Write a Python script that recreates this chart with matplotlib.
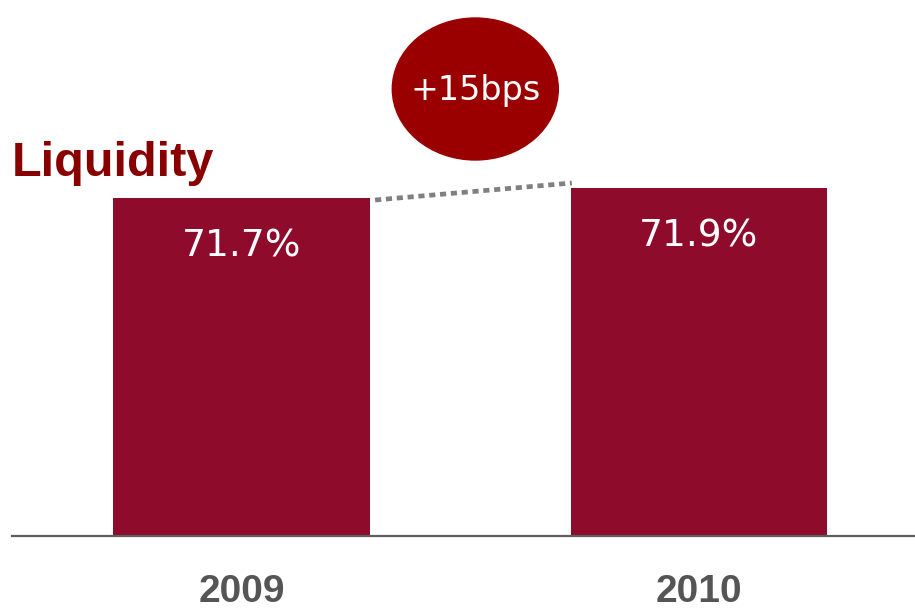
import matplotlib
matplotlib.use("Agg")
import matplotlib.pyplot as plt
from matplotlib.patches import Ellipse

years = ["2009", "2010"]
liquidity = [71.7, 71.9]
bar_labels = ["71.7%", "71.9%"]
change_label = "+15bps"
title = "Liquidity"

BAR_COLOR = "#8E0B2C"
TITLE_COLOR = "#880000"
BUBBLE_COLOR = "#9B0000"

fig = plt.figure(figsize=(9.15, 6.08), dpi=100)
ax = fig.add_axes([12 / 915, 72 / 608, 903 / 915, 536 / 608])

x = [0, 1]
bars = ax.bar(x, liquidity, width=0.56, color=BAR_COLOR, zorder=2)
ax.set_xlim(-0.5016, 1.472)
ax.set_ylim(64.94, 75.66)

for s in ["top", "right", "left"]:
    ax.spines[s].set_visible(False)
ax.spines["bottom"].set_color("#5f5f5f")
ax.spines["bottom"].set_linewidth(1.6)
ax.set_yticks([])
ax.set_xticks(x)
ax.set_xticklabels(years, fontsize=28, fontweight="bold", color="#555555",
                   family=["Liberation Sans Narrow", "Liberation Sans"])
ax.tick_params(axis="x", length=0, pad=27)

for xi, v, lab in zip(x, liquidity, bar_labels):
    ax.annotate(lab, (xi, v), xytext=(0, -35), textcoords="offset points",
                ha="center", va="center", color="white", fontsize=27,
                family="DejaVu Sans")

# dotted connector between bars
ax.plot([x[0] + 0.292, x[1] - 0.278], [liquidity[0] - 0.04, liquidity[1] + 0.1],
        color="#808080", lw=3.4, linestyle=(0, (1.3, 1.0)),
        dash_capstyle="butt", zorder=2)

# bubble
ell = Ellipse((0.511, 73.88), width=166 / 457.5, height=142 / 50,
              color=BUBBLE_COLOR, zorder=3)
ax.add_patch(ell)
ax.text(0.511, 73.86, change_label, ha="center", va="center", color="white",
        fontsize=24, family="DejaVu Sans", zorder=4)

fig.text(12 / 915, (608 - 176) / 608, title, ha="left", va="baseline",
         fontsize=35, fontweight="bold", color=TITLE_COLOR,
         family=["Liberation Sans", "DejaVu Sans"])

fig.savefig("out.png", dpi=100, facecolor="white")
